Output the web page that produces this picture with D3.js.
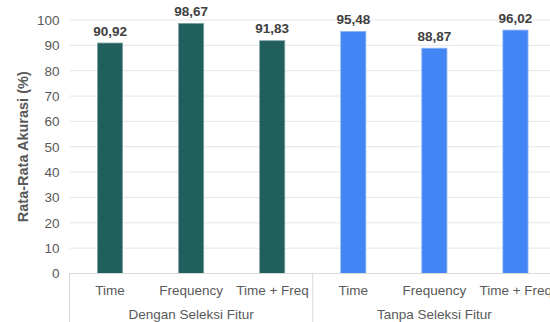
<!DOCTYPE html>
<html><head><meta charset="utf-8">
<script src="https://cdn.jsdelivr.net/npm/d3@7"></script>
<style>body{margin:0;background:#fff}svg{display:block;font-family:"Liberation Sans",Arial,sans-serif}</style>
</head><body><svg id="c" width="550" height="322"></svg>
<script>
const groups = ["Dengan Seleksi Fitur", "Tanpa Seleksi Fitur"];
const categories = ["Time", "Frequency", "Time + Frequency"];
const valuesDengan = [90.92, 98.67, 91.83];
const valuesTanpa = [95.48, 88.87, 96.02];
const yTicks = [0, 10, 20, 30, 40, 50, 60, 70, 80, 90, 100];
const colors = ["#215F5F", "#4285F4"];
const strokes = ["#7FA3A3", "#8DB4F8"];

(function () {
const data = [];
[valuesDengan, valuesTanpa].forEach((vals, gi) => {
  vals.forEach((v, ci) => data.push({g: gi, key: gi + "|" + categories[ci], cat: categories[ci], v}));
});

const svg = d3.select("#c");
const mLeft = 69.5, mRight = 556, mTop = 20, mBottom = 273.5;
const x = d3.scaleBand().domain(data.map(d => d.key)).range([mLeft, mRight]).paddingInner(0.69).paddingOuter(0.345);
const xg = d3.scaleBand().domain(groups).range([mLeft, mRight]);
const y = d3.scaleLinear().domain([0, 100]).range([mBottom, mTop]);

// gridlines
svg.append("g").selectAll("line").data(yTicks.filter(t => t > 0)).join("line")
  .attr("x1", mLeft).attr("x2", 550).attr("y1", d => y(d)).attr("y2", d => y(d))
  .attr("stroke", "#e6e6e6").attr("stroke-width", 1);

// y axis
const ya = svg.append("g").attr("transform", `translate(${mLeft},0)`)
  .call(d3.axisLeft(y).tickValues(yTicks).tickSize(0).tickPadding(10));
ya.select(".domain").remove();
ya.selectAll("text").attr("font-size", 13.5).attr("fill", "#595959").attr("font-family", "Liberation Sans, Arial, sans-serif");

// bars
svg.append("g").selectAll("rect").data(data).join("rect")
  .attr("x", d => x(d.key)).attr("width", x.bandwidth())
  .attr("y", d => y(d.v)).attr("height", d => y(0) - y(d.v))
  .attr("fill", d => colors[d.g]).attr("stroke", d => strokes[d.g]).attr("stroke-width", 0.8);

// value labels
const fmt = v => v.toFixed(2).replace(".", ",");
svg.append("g").selectAll("text").data(data).join("text")
  .attr("x", d => x(d.key) + x.bandwidth() / 2).attr("y", d => y(d.v) - 7.5)
  .attr("text-anchor", "middle").attr("font-size", 13.5).attr("font-weight", "bold")
  .attr("fill", "#404040").text(d => fmt(d.v));

// x axis baseline
svg.append("line").attr("x1", mLeft).attr("x2", 550).attr("y1", mBottom).attr("y2", mBottom)
  .attr("stroke", "#d9d9d9");
// group separators
const seps = [mLeft].concat(groups.map(g => xg(g) + xg.bandwidth()));
svg.append("g").selectAll("line").data(seps).join("line")
  .attr("x1", d => d).attr("x2", d => d).attr("y1", mBottom).attr("y2", 322)
  .attr("stroke", "#d9d9d9");

// category labels: long labels are left-aligned and truncated at a whole character (as the source chart does)
const step = x.step();
const lab = svg.append("g").selectAll("text").data(data).join("text")
  .attr("y", 295).attr("font-size", 13.5).attr("fill", "#595959").text(d => d.cat);
lab.each(function(d) {
  const el = this;
  const w = el.getComputedTextLength();
  const cx = x(d.key) + x.bandwidth() / 2;
  if (w > step - 8) {
    const limit = step - 8;
    let n = 0;
    for (let k = 1; k <= d.cat.length; k++) {
      if (el.getSubStringLength(0, k) <= limit) n = k; else break;
    }
    d3.select(el).attr("x", cx - step / 2 + 4.5).attr("text-anchor", "start").text(d.cat.slice(0, n));
  } else {
    d3.select(el).attr("x", cx).attr("text-anchor", "middle");
  }
});

// group labels
svg.append("g").selectAll("text").data(groups).join("text")
  .attr("x", d => xg(d) + xg.bandwidth() / 2).attr("y", 319)
  .attr("text-anchor", "middle").attr("font-size", 13.5).attr("fill", "#595959").text(d => d);

// y title
svg.append("text").attr("transform", `translate(27.5,${(mTop + mBottom) / 2}) rotate(-90)`)
  .attr("text-anchor", "middle").attr("font-size", 14.5).attr("font-weight", "bold")
  .attr("fill", "#595959").text("Rata-Rata Akurasi (%)");
})();
</script></body></html>
